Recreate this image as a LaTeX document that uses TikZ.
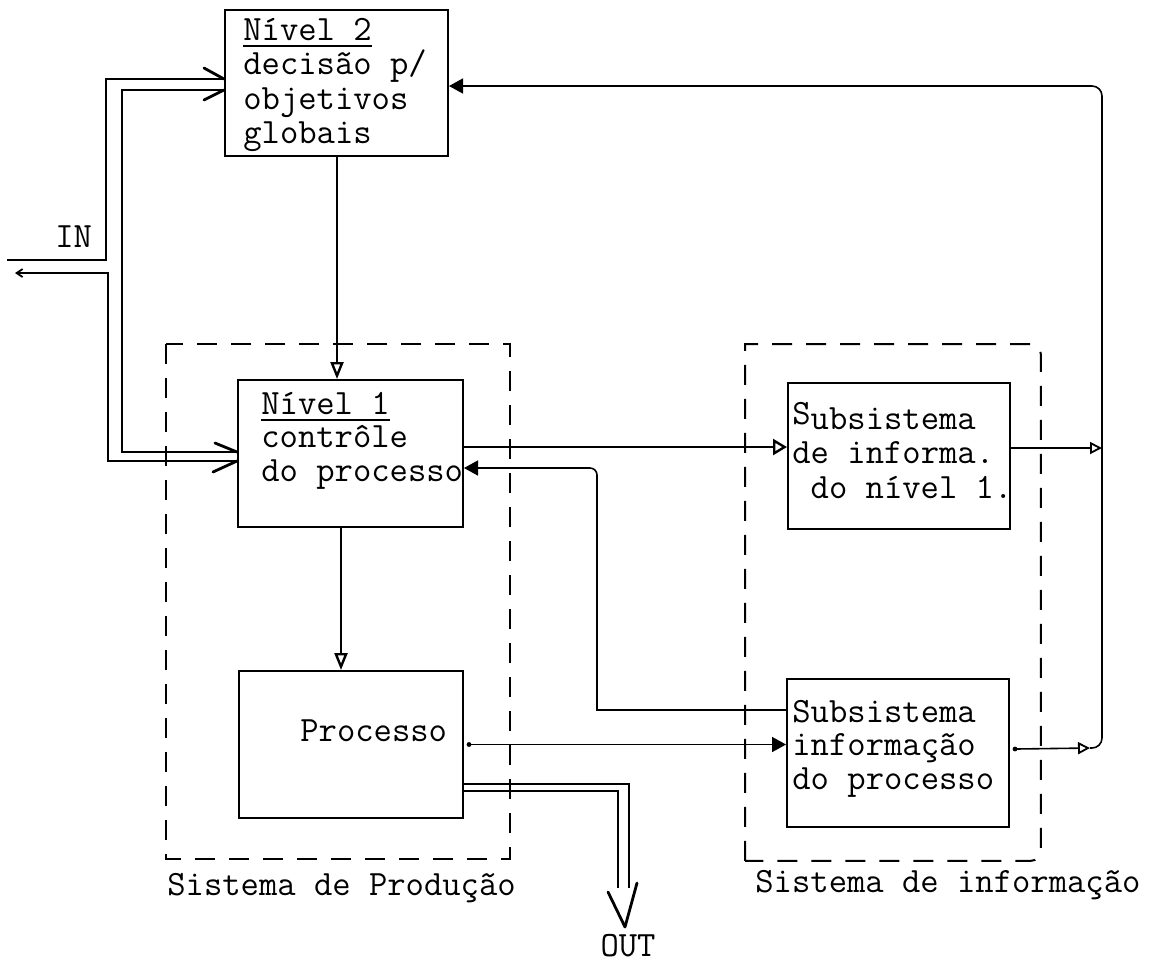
\documentclass[tikz,border=0pt]{standalone}
\usepackage{fontspec}
\usetikzlibrary{arrows.meta,calc}
\newcommand\tw{\fontsize{17.8}{17.25}\selectfont\ttfamily\addfontfeatures{FakeBold=0.6}}
\newcommand\myul[1]{\setbox0\hbox{#1}\rlap{\rule[-3.5pt]{\wd0}{0.8pt}}\box0}
\newcommand\stack[2]{\vtop{\baselineskip=#1\lineskiplimit=-20pt\lineskip=0pt #2}}
\begin{document}
\begin{tikzpicture}[x=0.5pt,y=-0.5pt,
  box/.style={draw,line width=1pt,rectangle,inner sep=0pt,anchor=north west},
  area/.style={draw=none,rectangle,inner sep=0pt,anchor=north west},
  dline/.style={line width=1pt,dash pattern=on 10pt off 7pt},
  conn/.style={line width=0.8pt},
  pipe/.style={line width=0.9pt},
  tickline/.style={line width=1.4pt,line cap=round,line join=round},
  txt/.style={anchor=base west,inner sep=0pt,font=\tw},
  opentip/.style={-{Triangle[open,length=8.5pt,width=6.5pt,line width=1.2pt]}},
  smallopen/.style={-{Triangle[open,length=6pt,width=6pt,line width=0.9pt]}},
  filltip/.style={-{Triangle[length=7pt,width=7.5pt]}}
]
\useasboundingbox (0,0) rectangle (1160,966);

% boxes
\node[box,minimum width=111.5pt,minimum height=73pt] (n2) at (224,9) {};
\node[box,minimum width=112.5pt,minimum height=73.5pt] (n1) at (237,379) {};
\node[box,minimum width=112pt,minimum height=73.5pt] (proc) at (238,670) {};
\node[box,minimum width=111pt,minimum height=73pt] (s1) at (787,382) {};
\node[box,minimum width=111pt,minimum height=74pt] (s2) at (786,678) {};
\node[area,minimum width=171.5pt,minimum height=257pt] (prodsys) at (166,344) {};
\node[area,minimum width=147.5pt,minimum height=258pt] (infosys) at (745,344) {};

% dashed system frames
\draw[dline] (prodsys.north west) rectangle (prodsys.south east);
\draw[dline] (infosys.south west) -- (infosys.north west) [rounded corners=5pt] -- (infosys.north east) -- (infosys.south east) [sharp corners] -- (infosys.south west);

% texts
\node[txt] (n2t) at (243,40) {\stack{17.25pt}{\hbox{\myul{Nível 2}}\hbox{decisão p/}\hbox{objetivos}\hbox{globais}}};
\node[txt] (n1t) at (261,414) {\stack{16.75pt}{\hbox{\myul{Nível 1}}\hbox{contrôle}\hbox{do processo}}};
\node[txt] (proct) at (300,741) {Processo};
\node[txt] (s1t) at (792,429) {\stack{17.25pt}{\hbox{\raisebox{2.5pt}{S}ubsistema}\hbox{de informa.}\hbox{\ do nível 1.}}};
\node[txt] (s2t) at (792,722) {\stack{16.75pt}{\hbox{Subsistema}\hbox{informação}\hbox{do processo}}};
\node[txt] (inlbl) at (55,247) {IN};
\node[txt] (prodlbl) at (167,895) {Sistema de Produção};
\node[txt] (infolbl) at (755,892) {Sistema de informação};
\node[txt,anchor=base] (outlbl) at (628,956) {OUT};

% helper coordinates
\coordinate (x337) at (337,0);
\coordinate (x341) at (341,0);
\coordinate (x597) at (597,0);
\coordinate (x1102) at (1102,0);
\coordinate (inA) at (7,260);
\coordinate (inB) at (15,273);
\coordinate (inTop) at (106,79);
\coordinate (inBot) at (108,461);
\coordinate (inIn) at (122,452);
\coordinate (t2a) at (204,68);
\coordinate (t2b) at (204,100);
\coordinate (t1a) at (215,443);
\coordinate (t1b) at (213,472);

% IN double line
\draw[pipe] (inA) -| (inTop) -- (inTop -| n2.west);
\draw[pipe] (inIn -| n1.west) -- (inIn) |- ([yshift=-3.5pt]n2.west);
\draw[pipe,{Straight Barb[length=3pt,width=4pt]}-] (inB) -| (inBot) -- (inBot -| n1.west);
\draw[tickline] (t2a) -- (inTop -| n2.west);
\draw[tickline] (t2b) -- ([yshift=-3.5pt]n2.west);
\draw[tickline] (t1a) -- (inIn -| n1.west);
\draw[tickline] (t1b) -- (inBot -| n1.west);

% vertical flows
\draw[conn,opentip] (n2.south -| x337) -- (n1.north -| x337);
\draw[conn,opentip] (n1.south -| x341) -- (proc.north -| x341);

% Nivel 1 -> subsistema nivel 1
\coordinate (a1) at ([yshift=3.25pt]n1.east);
\draw[conn,-{Triangle[open,length=7pt,width=8pt,line width=1.2pt]}] (a1) -- (a1 -| s1.west);

% feedback from subsistema processo to Nivel 1
\coordinate (fbS) at ([yshift=21.5pt]s2.west);
\coordinate (fbE) at ([yshift=-7.25pt]n1.east);
\draw[conn,filltip] (fbS) -- (fbS -| x597) [rounded corners=3.5pt] -- (fbE -| x597) -- (fbE);

% processo -> subsistema processo
\coordinate (pO) at ([xshift=2.5pt]proc.east);
\draw[conn,filltip] (pO) -- (pO -| s2.west);
\fill (pO) circle (1.2pt);

% info subsystems -> Nivel 2
\coordinate (s1o) at ([yshift=4pt]s1.east);
\draw[conn,smallopen] (s1o) -- (s1o -| x1102);
\coordinate (s2o) at ([xshift=2.5pt,yshift=2pt]s2.east);
\coordinate (vbIn) at (1090,748);
\coordinate (n2e) at ([yshift=-1.5pt]n2.east);
\fill (s2o) circle (1.2pt);
\draw[conn,smallopen] (s2o) -- (vbIn);
\draw[conn,rounded corners=5pt,filltip] (vbIn) -| (n2e -| x1102) -- (n2e);

% OUT double line
\coordinate (po1) at ([yshift=-19.75pt]proc.east);
\coordinate (po2) at ([yshift=-23.25pt]proc.east);
\coordinate (o1) at (629,888);
\coordinate (o2) at (618,888);
\coordinate (vL) at (608,892);
\coordinate (vT) at (625,927);
\coordinate (vR) at (637,883);
\draw[pipe] (po1) -| (o1);
\draw[pipe] (po2) -| (o2);
\draw[tickline] (vL) -- (vT) -- (vR);
\end{tikzpicture}
\end{document}
